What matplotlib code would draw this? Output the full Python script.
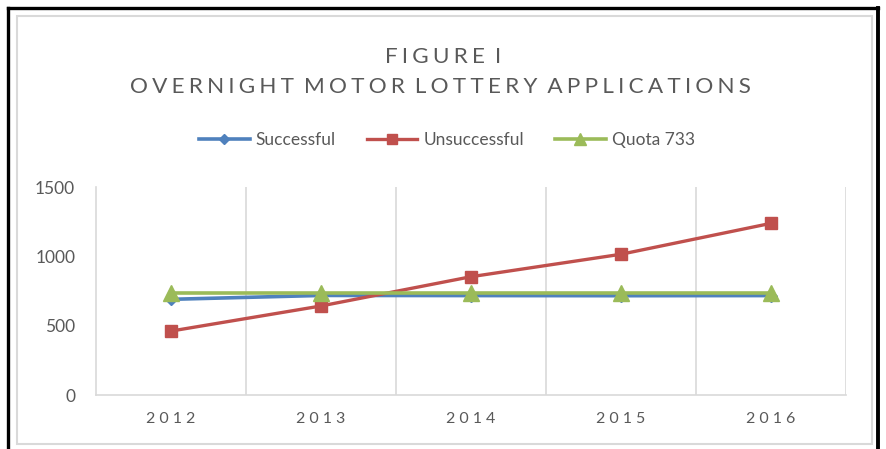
import matplotlib
matplotlib.use("Agg")
import matplotlib.pyplot as plt
from matplotlib.patches import Rectangle
from matplotlib.lines import Line2D

plt.rcParams['font.family'] = ['Lato', 'DejaVu Sans']

years = ['2012', '2013', '2014', '2015', '2016']
successful = [690, 718, 717, 716, 717]
unsuccessful = [461, 642, 853, 1015, 1238]
quota = [733, 733, 733, 733, 733]
yticks = [0, 500, 1000, 1500]
title_lines = ['FIGURE I', 'OVERNIGHT MOTOR LOTTERY APPLICATIONS']
series_names = ['Successful', 'Unsuccessful', 'Quota 733']

W, H = 887, 449
fig = plt.figure(figsize=(W / 100, H / 100), dpi=100)

def fx(px):
    return px / W

def fy(py):
    return 1 - py / H

def spaced(s, gap):
    out = gap.join(list(s))
    return out.replace(gap + ' ' + gap, gap + ' ')

TXT = '#595959'
GRID = '#D9D9D9'

# borders
fig.patches.append(Rectangle((fx(17), fy(444)), fx(872) - fx(17), fy(16) - fy(444),
                             transform=fig.transFigure, fill=False, edgecolor=GRID, lw=1.5))
fig.add_artist(Line2D([fx(8), fx(878.5)], [fy(8), fy(8)], transform=fig.transFigure, color='black', lw=2.4))
fig.add_artist(Line2D([fx(8), fx(8)], [fy(8), 0], transform=fig.transFigure, color='black', lw=2.4))
fig.add_artist(Line2D([fx(878.5), fx(878.5)], [fy(8), 0], transform=fig.transFigure, color='black', lw=2.8))

ax = fig.add_axes([fx(96), fy(395), fx(846) - fx(96), fy(187) - fy(395)])

x = list(range(len(years)))
ax.plot(x, successful, color='#4F81BD', lw=2.6, marker='D', ms=6, label=series_names[0], zorder=3)
ax.plot(x, unsuccessful, color='#C0504D', lw=2.4, marker='s', ms=9, label=series_names[1], zorder=3)
ax.plot(x, quota, color='#9BBB59', lw=2.6, marker='^', ms=11, label=series_names[2], zorder=4)

ax.set_xlim(-0.5, len(years) - 0.5)
ax.set_ylim(0, 1500)
ax.set_yticks(yticks)
ax.set_yticklabels([str(v) for v in yticks])
ax.set_xticks(x)
ax.set_xticklabels([spaced(y, '\u2009\u2009') for y in years])
ax.set_xticks([i + 0.5 for i in x], minor=True)
ax.grid(True, which='minor', axis='x', color=GRID, lw=1.2)
ax.grid(False, which='major')
ax.tick_params(axis='both', which='both', length=0)
ax.tick_params(axis='y', pad=15, labelsize=12.5, labelcolor=TXT)
ax.tick_params(axis='x', pad=12, labelsize=11.5, labelcolor=TXT)
for s in ['top', 'right']:
    ax.spines[s].set_visible(False)
for s in ['left', 'bottom']:
    ax.spines[s].set_color(GRID)
    ax.spines[s].set_linewidth(1.2)

fig.text(fx(443), fy(57), spaced(title_lines[0], '\u2009\u200a'), ha='center', va='center',
         fontsize=16.2, color=TXT)
fig.text(fx(440), fy(87), spaced(title_lines[1], '\u2009\u200a'), ha='center', va='center',
         fontsize=16.2, color=TXT)

leg = fig.legend(loc='center', bbox_to_anchor=(fx(447), fy(140)), ncol=3, frameon=False,
                 fontsize=12.5, handlelength=2.9, handletextpad=0.35, columnspacing=1.8,
                 labelcolor=TXT)
for h, ms in zip(leg.legend_handles, [5, 7, 8]):
    h.set_markersize(ms)

fig.savefig('out.png', dpi=100)
